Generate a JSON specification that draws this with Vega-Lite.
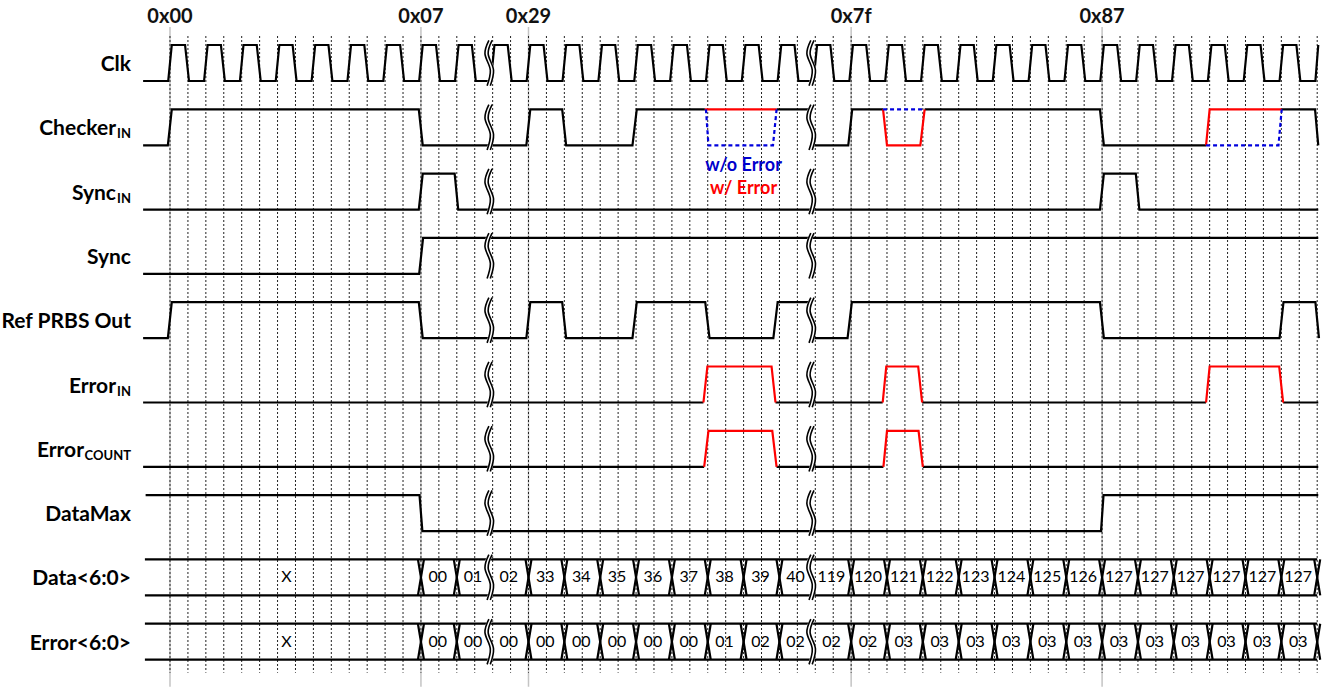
{
  "$schema": "https://vega.github.io/schema/vega-lite/v6.json",
  "width": 1332,
  "height": 687,
  "autosize": {"type": "fit", "contains": "padding"},
  "padding": 0,
  "background": "white",
  "config": {"view": {"stroke": null}, "font": "Lato"},
  "datasets": {
    "grid": [
      {"t":0},{"t":0.5},{"t":1},{"t":1.5},{"t":2},{"t":2.5},{"t":3},{"t":3.5},{"t":4},{"t":4.5},{"t":5},{"t":5.5},{"t":6},{"t":6.5},{"t":7},{"t":7.5},
      {"t":8},{"t":8.5},{"t":9},{"t":9.5},{"t":10},{"t":10.5},{"t":11},{"t":11.5},{"t":12},{"t":12.5},{"t":13},{"t":13.5},{"t":14},{"t":14.5},{"t":15},{"t":15.5},
      {"t":16},{"t":16.5},{"t":17},{"t":17.5},{"t":18},{"t":18.5},{"t":19},{"t":19.5},{"t":20},{"t":20.5},{"t":21},{"t":21.5},{"t":22},{"t":22.5},{"t":23},{"t":23.5},
      {"t":24},{"t":24.5},{"t":25},{"t":25.5},{"t":26},{"t":26.5},{"t":27},{"t":27.5},{"t":28},{"t":28.5},{"t":29},{"t":29.5},{"t":30},{"t":30.5},{"t":31},{"t":31.5},{"t":32}
    ],
    "hex": [
      {"t":0,"lab":"0x00"},{"t":7,"lab":"0x07"},{"t":10,"lab":"0x29"},{"t":19,"lab":"0x7f"},{"t":26,"lab":"0x87"}
    ],
    "wave": [
      {"s":"c","r":0,"t":-0.75,"v":0},
      {"s":"c","r":0,"t":-0.05,"v":0},{"s":"c","r":0,"t":0.05,"v":1},{"s":"c","r":0,"t":0.42,"v":1},{"s":"c","r":0,"t":0.53,"v":0},
      {"s":"c","r":0,"t":0.95,"v":0},{"s":"c","r":0,"t":1.05,"v":1},{"s":"c","r":0,"t":1.42,"v":1},{"s":"c","r":0,"t":1.53,"v":0},
      {"s":"c","r":0,"t":1.95,"v":0},{"s":"c","r":0,"t":2.05,"v":1},{"s":"c","r":0,"t":2.42,"v":1},{"s":"c","r":0,"t":2.53,"v":0},
      {"s":"c","r":0,"t":2.95,"v":0},{"s":"c","r":0,"t":3.05,"v":1},{"s":"c","r":0,"t":3.42,"v":1},{"s":"c","r":0,"t":3.53,"v":0},
      {"s":"c","r":0,"t":3.95,"v":0},{"s":"c","r":0,"t":4.05,"v":1},{"s":"c","r":0,"t":4.42,"v":1},{"s":"c","r":0,"t":4.53,"v":0},
      {"s":"c","r":0,"t":4.95,"v":0},{"s":"c","r":0,"t":5.05,"v":1},{"s":"c","r":0,"t":5.42,"v":1},{"s":"c","r":0,"t":5.53,"v":0},
      {"s":"c","r":0,"t":5.95,"v":0},{"s":"c","r":0,"t":6.05,"v":1},{"s":"c","r":0,"t":6.42,"v":1},{"s":"c","r":0,"t":6.53,"v":0},
      {"s":"c","r":0,"t":6.95,"v":0},{"s":"c","r":0,"t":7.05,"v":1},{"s":"c","r":0,"t":7.42,"v":1},{"s":"c","r":0,"t":7.53,"v":0},
      {"s":"c","r":0,"t":7.95,"v":0},{"s":"c","r":0,"t":8.05,"v":1},{"s":"c","r":0,"t":8.42,"v":1},{"s":"c","r":0,"t":8.53,"v":0},
      {"s":"c","r":0,"t":8.95,"v":0},{"s":"c","r":0,"t":9.05,"v":1},{"s":"c","r":0,"t":9.42,"v":1},{"s":"c","r":0,"t":9.53,"v":0},
      {"s":"c","r":0,"t":9.95,"v":0},{"s":"c","r":0,"t":10.05,"v":1},{"s":"c","r":0,"t":10.42,"v":1},{"s":"c","r":0,"t":10.53,"v":0},
      {"s":"c","r":0,"t":10.95,"v":0},{"s":"c","r":0,"t":11.05,"v":1},{"s":"c","r":0,"t":11.42,"v":1},{"s":"c","r":0,"t":11.53,"v":0},
      {"s":"c","r":0,"t":11.95,"v":0},{"s":"c","r":0,"t":12.05,"v":1},{"s":"c","r":0,"t":12.42,"v":1},{"s":"c","r":0,"t":12.53,"v":0},
      {"s":"c","r":0,"t":12.95,"v":0},{"s":"c","r":0,"t":13.05,"v":1},{"s":"c","r":0,"t":13.42,"v":1},{"s":"c","r":0,"t":13.53,"v":0},
      {"s":"c","r":0,"t":13.95,"v":0},{"s":"c","r":0,"t":14.05,"v":1},{"s":"c","r":0,"t":14.42,"v":1},{"s":"c","r":0,"t":14.53,"v":0},
      {"s":"c","r":0,"t":14.95,"v":0},{"s":"c","r":0,"t":15.05,"v":1},{"s":"c","r":0,"t":15.42,"v":1},{"s":"c","r":0,"t":15.53,"v":0},
      {"s":"c","r":0,"t":15.95,"v":0},{"s":"c","r":0,"t":16.05,"v":1},{"s":"c","r":0,"t":16.42,"v":1},{"s":"c","r":0,"t":16.53,"v":0},
      {"s":"c","r":0,"t":16.95,"v":0},{"s":"c","r":0,"t":17.05,"v":1},{"s":"c","r":0,"t":17.42,"v":1},{"s":"c","r":0,"t":17.53,"v":0},
      {"s":"c","r":0,"t":17.95,"v":0},{"s":"c","r":0,"t":18.05,"v":1},{"s":"c","r":0,"t":18.42,"v":1},{"s":"c","r":0,"t":18.53,"v":0},
      {"s":"c","r":0,"t":18.95,"v":0},{"s":"c","r":0,"t":19.05,"v":1},{"s":"c","r":0,"t":19.42,"v":1},{"s":"c","r":0,"t":19.53,"v":0},
      {"s":"c","r":0,"t":19.95,"v":0},{"s":"c","r":0,"t":20.05,"v":1},{"s":"c","r":0,"t":20.42,"v":1},{"s":"c","r":0,"t":20.53,"v":0},
      {"s":"c","r":0,"t":20.95,"v":0},{"s":"c","r":0,"t":21.05,"v":1},{"s":"c","r":0,"t":21.42,"v":1},{"s":"c","r":0,"t":21.53,"v":0},
      {"s":"c","r":0,"t":21.95,"v":0},{"s":"c","r":0,"t":22.05,"v":1},{"s":"c","r":0,"t":22.42,"v":1},{"s":"c","r":0,"t":22.53,"v":0},
      {"s":"c","r":0,"t":22.95,"v":0},{"s":"c","r":0,"t":23.05,"v":1},{"s":"c","r":0,"t":23.42,"v":1},{"s":"c","r":0,"t":23.53,"v":0},
      {"s":"c","r":0,"t":23.95,"v":0},{"s":"c","r":0,"t":24.05,"v":1},{"s":"c","r":0,"t":24.42,"v":1},{"s":"c","r":0,"t":24.53,"v":0},
      {"s":"c","r":0,"t":24.95,"v":0},{"s":"c","r":0,"t":25.05,"v":1},{"s":"c","r":0,"t":25.42,"v":1},{"s":"c","r":0,"t":25.53,"v":0},
      {"s":"c","r":0,"t":25.95,"v":0},{"s":"c","r":0,"t":26.05,"v":1},{"s":"c","r":0,"t":26.42,"v":1},{"s":"c","r":0,"t":26.53,"v":0},
      {"s":"c","r":0,"t":26.95,"v":0},{"s":"c","r":0,"t":27.05,"v":1},{"s":"c","r":0,"t":27.42,"v":1},{"s":"c","r":0,"t":27.53,"v":0},
      {"s":"c","r":0,"t":27.95,"v":0},{"s":"c","r":0,"t":28.05,"v":1},{"s":"c","r":0,"t":28.42,"v":1},{"s":"c","r":0,"t":28.53,"v":0},
      {"s":"c","r":0,"t":28.95,"v":0},{"s":"c","r":0,"t":29.05,"v":1},{"s":"c","r":0,"t":29.42,"v":1},{"s":"c","r":0,"t":29.53,"v":0},
      {"s":"c","r":0,"t":29.95,"v":0},{"s":"c","r":0,"t":30.05,"v":1},{"s":"c","r":0,"t":30.42,"v":1},{"s":"c","r":0,"t":30.53,"v":0},
      {"s":"c","r":0,"t":30.95,"v":0},{"s":"c","r":0,"t":31.05,"v":1},{"s":"c","r":0,"t":31.42,"v":1},{"s":"c","r":0,"t":31.53,"v":0},
      {"s":"c","r":0,"t":31.95,"v":0},{"s":"c","r":0,"t":32.03,"v":1},

      {"s":"k1","r":1,"t":-0.75,"v":0},{"s":"k1","r":1,"t":-0.06,"v":0},{"s":"k1","r":1,"t":0.05,"v":1},{"s":"k1","r":1,"t":6.94,"v":1},{"s":"k1","r":1,"t":7.05,"v":0},
      {"s":"k1","r":1,"t":9.94,"v":0},{"s":"k1","r":1,"t":10.05,"v":1},{"s":"k1","r":1,"t":10.94,"v":1},{"s":"k1","r":1,"t":11.05,"v":0},
      {"s":"k1","r":1,"t":12.9,"v":0},{"s":"k1","r":1,"t":13.02,"v":1},{"s":"k1","r":1,"t":14.92,"v":1},
      {"s":"k2","r":1,"t":16.92,"v":1},{"s":"k2","r":1,"t":17.88,"v":1},
      {"s":"k3","r":1,"t":17.9,"v":0},{"s":"k3","r":1,"t":18.92,"v":0},{"s":"k3","r":1,"t":19.03,"v":1},{"s":"k3","r":1,"t":19.89,"v":1},
      {"s":"k4","r":1,"t":21.05,"v":1},{"s":"k4","r":1,"t":25.94,"v":1},{"s":"k4","r":1,"t":26.05,"v":0},{"s":"k4","r":1,"t":28.9,"v":0},
      {"s":"k5","r":1,"t":31.01,"v":1},{"s":"k5","r":1,"t":31.94,"v":1},{"s":"k5","r":1,"t":32.03,"v":0},

      {"s":"si","r":2,"t":-0.75,"v":0},{"s":"si","r":2,"t":6.94,"v":0},{"s":"si","r":2,"t":7.05,"v":1},{"s":"si","r":2,"t":7.94,"v":1},{"s":"si","r":2,"t":8.04,"v":0},
      {"s":"si","r":2,"t":25.94,"v":0},{"s":"si","r":2,"t":26.05,"v":1},{"s":"si","r":2,"t":26.94,"v":1},{"s":"si","r":2,"t":27.04,"v":0},{"s":"si","r":2,"t":32.03,"v":0},

      {"s":"sy","r":3,"t":-0.75,"v":0},{"s":"sy","r":3,"t":6.95,"v":0},{"s":"sy","r":3,"t":7.06,"v":1},{"s":"sy","r":3,"t":32.03,"v":1},

      {"s":"p1","r":4,"t":-0.75,"v":0},{"s":"p1","r":4,"t":-0.06,"v":0},{"s":"p1","r":4,"t":0.05,"v":1},{"s":"p1","r":4,"t":6.94,"v":1},{"s":"p1","r":4,"t":7.05,"v":0},
      {"s":"p1","r":4,"t":9.94,"v":0},{"s":"p1","r":4,"t":10.05,"v":1},{"s":"p1","r":4,"t":10.94,"v":1},{"s":"p1","r":4,"t":11.05,"v":0},
      {"s":"p1","r":4,"t":12.9,"v":0},{"s":"p1","r":4,"t":13.02,"v":1},{"s":"p1","r":4,"t":14.93,"v":1},{"s":"p1","r":4,"t":15.05,"v":0},
      {"s":"p1","r":4,"t":16.83,"v":0},{"s":"p1","r":4,"t":16.95,"v":1},{"s":"p1","r":4,"t":17.88,"v":1},
      {"s":"p2","r":4,"t":17.9,"v":0},{"s":"p2","r":4,"t":18.9,"v":0},{"s":"p2","r":4,"t":19.02,"v":1},{"s":"p2","r":4,"t":25.94,"v":1},{"s":"p2","r":4,"t":26.05,"v":0},
      {"s":"p2","r":4,"t":30.95,"v":0},{"s":"p2","r":4,"t":31.06,"v":1},{"s":"p2","r":4,"t":31.95,"v":1},{"s":"p2","r":4,"t":32.05,"v":0},

      {"s":"e1","r":5,"t":-0.75,"v":0},{"s":"e1","r":5,"t":14.88,"v":0},
      {"s":"e2","r":5,"t":16.89,"v":0},{"s":"e2","r":5,"t":19.88,"v":0},
      {"s":"e3","r":5,"t":20.98,"v":0},{"s":"e3","r":5,"t":28.9,"v":0},
      {"s":"e4","r":5,"t":31.05,"v":0},{"s":"e4","r":5,"t":32.03,"v":0},

      {"s":"n1","r":6,"t":-0.75,"v":0},{"s":"n1","r":6,"t":14.9,"v":0},
      {"s":"n2","r":6,"t":16.92,"v":0},{"s":"n2","r":6,"t":19.9,"v":0},
      {"s":"n3","r":6,"t":21.0,"v":0},{"s":"n3","r":6,"t":32.03,"v":0},

      {"s":"dm","r":7,"t":-0.68,"v":1},{"s":"dm","r":7,"t":6.96,"v":1},{"s":"dm","r":7,"t":7.04,"v":0},{"s":"dm","r":7,"t":25.97,"v":0},{"s":"dm","r":7,"t":26.04,"v":1},{"s":"dm","r":7,"t":32.03,"v":1},

      {"s":"b1t","r":8,"t":-0.7,"v":1},{"s":"b1t","r":8,"t":32,"v":1},
      {"s":"b1b","r":8,"t":-0.7,"v":0},{"s":"b1b","r":8,"t":32,"v":0},
      {"s":"b2t","r":9,"t":-0.7,"v":1},{"s":"b2t","r":9,"t":32,"v":1},
      {"s":"b2b","r":9,"t":-0.7,"v":0},{"s":"b2b","r":9,"t":32,"v":0}
    ],
    "red": [
      {"s":"x1","r":1,"t":14.92,"v":1},{"s":"x1","r":1,"t":16.92,"v":1},
      {"s":"x2","r":1,"t":19.89,"v":1},{"s":"x2","r":1,"t":20.0,"v":0},{"s":"x2","r":1,"t":20.93,"v":0},{"s":"x2","r":1,"t":21.05,"v":1},
      {"s":"x3","r":1,"t":28.9,"v":0},{"s":"x3","r":1,"t":29.0,"v":1},{"s":"x3","r":1,"t":31.01,"v":1},
      {"s":"x4","r":5,"t":14.88,"v":0},{"s":"x4","r":5,"t":14.99,"v":1},{"s":"x4","r":5,"t":16.78,"v":1},{"s":"x4","r":5,"t":16.89,"v":0},
      {"s":"x5","r":5,"t":19.88,"v":0},{"s":"x5","r":5,"t":19.98,"v":1},{"s":"x5","r":5,"t":20.87,"v":1},{"s":"x5","r":5,"t":20.98,"v":0},
      {"s":"x6","r":5,"t":28.9,"v":0},{"s":"x6","r":5,"t":29.0,"v":1},{"s":"x6","r":5,"t":30.94,"v":1},{"s":"x6","r":5,"t":31.05,"v":0},
      {"s":"x7","r":6,"t":14.9,"v":0},{"s":"x7","r":6,"t":15.02,"v":1},{"s":"x7","r":6,"t":16.8,"v":1},{"s":"x7","r":6,"t":16.92,"v":0},
      {"s":"x8","r":6,"t":19.9,"v":0},{"s":"x8","r":6,"t":20.0,"v":1},{"s":"x8","r":6,"t":20.88,"v":1},{"s":"x8","r":6,"t":21.0,"v":0}
    ],
    "blue": [
      {"s":"w1","r":1,"t":14.95,"v":1},{"s":"w1","r":1,"t":15.02,"v":0},{"s":"w1","r":1,"t":16.82,"v":0},{"s":"w1","r":1,"t":16.92,"v":1},
      {"s":"w2","r":1,"t":19.89,"v":1},{"s":"w2","r":1,"t":21.05,"v":1},
      {"s":"w3","r":1,"t":28.9,"v":0},{"s":"w3","r":1,"t":30.92,"v":0},{"s":"w3","r":1,"t":31.01,"v":1}
    ],
    "cross": [
      {"r":8,"t":7},{"r":8,"t":8},{"r":8,"t":10},{"r":8,"t":11},{"r":8,"t":12},{"r":8,"t":13},{"r":8,"t":14},{"r":8,"t":15},{"r":8,"t":16},{"r":8,"t":17},
      {"r":8,"t":19},{"r":8,"t":20},{"r":8,"t":21},{"r":8,"t":22},{"r":8,"t":23},{"r":8,"t":24},{"r":8,"t":25},{"r":8,"t":26},{"r":8,"t":27},{"r":8,"t":28},
      {"r":8,"t":29},{"r":8,"t":30},{"r":8,"t":31},{"r":8,"t":32},
      {"r":9,"t":7},{"r":9,"t":8},{"r":9,"t":10},{"r":9,"t":11},{"r":9,"t":12},{"r":9,"t":13},{"r":9,"t":14},{"r":9,"t":15},{"r":9,"t":16},{"r":9,"t":17},
      {"r":9,"t":19},{"r":9,"t":20},{"r":9,"t":21},{"r":9,"t":22},{"r":9,"t":23},{"r":9,"t":24},{"r":9,"t":25},{"r":9,"t":26},{"r":9,"t":27},{"r":9,"t":28},
      {"r":9,"t":29},{"r":9,"t":30},{"r":9,"t":31},{"r":9,"t":32}
    ],
    "cells": [
      {"r":8,"t":3.25,"txt":"X"},{"r":8,"t":7.47,"txt":"00"},{"r":8,"t":8.45,"txt":"01"},{"r":8,"t":9.45,"txt":"02"},
      {"r":8,"t":10.47,"txt":"33"},{"r":8,"t":11.47,"txt":"34"},{"r":8,"t":12.47,"txt":"35"},{"r":8,"t":13.47,"txt":"36"},{"r":8,"t":14.47,"txt":"37"},
      {"r":8,"t":15.47,"txt":"38"},{"r":8,"t":16.47,"txt":"39"},{"r":8,"t":17.45,"txt":"40"},{"r":8,"t":18.45,"txt":"119"},
      {"r":8,"t":19.47,"txt":"120"},{"r":8,"t":20.47,"txt":"121"},{"r":8,"t":21.47,"txt":"122"},{"r":8,"t":22.47,"txt":"123"},{"r":8,"t":23.47,"txt":"124"},
      {"r":8,"t":24.47,"txt":"125"},{"r":8,"t":25.47,"txt":"126"},{"r":8,"t":26.47,"txt":"127"},{"r":8,"t":27.47,"txt":"127"},{"r":8,"t":28.47,"txt":"127"},
      {"r":8,"t":29.47,"txt":"127"},{"r":8,"t":30.47,"txt":"127"},{"r":8,"t":31.47,"txt":"127"},
      {"r":9,"t":3.25,"txt":"X"},{"r":9,"t":7.47,"txt":"00"},{"r":9,"t":8.45,"txt":"00"},{"r":9,"t":9.45,"txt":"00"},
      {"r":9,"t":10.47,"txt":"00"},{"r":9,"t":11.47,"txt":"00"},{"r":9,"t":12.47,"txt":"00"},{"r":9,"t":13.47,"txt":"00"},{"r":9,"t":14.47,"txt":"00"},
      {"r":9,"t":15.47,"txt":"01"},{"r":9,"t":16.47,"txt":"02"},{"r":9,"t":17.45,"txt":"02"},{"r":9,"t":18.45,"txt":"02"},
      {"r":9,"t":19.47,"txt":"02"},{"r":9,"t":20.47,"txt":"03"},{"r":9,"t":21.47,"txt":"03"},{"r":9,"t":22.47,"txt":"03"},{"r":9,"t":23.47,"txt":"03"},
      {"r":9,"t":24.47,"txt":"03"},{"r":9,"t":25.47,"txt":"03"},{"r":9,"t":26.47,"txt":"03"},{"r":9,"t":27.47,"txt":"03"},{"r":9,"t":28.47,"txt":"03"},
      {"r":9,"t":29.47,"txt":"03"},{"r":9,"t":30.47,"txt":"03"},{"r":9,"t":31.47,"txt":"03"}
    ],
    "brk": [
      {"id":"0a","i":0,"r":0,"t":8.94,"v":1.13},{"id":"0a","i":1,"r":0,"t":8.83,"v":0.76},{"id":"0a","i":2,"r":0,"t":8.98,"v":0.3},{"id":"0a","i":3,"r":0,"t":8.89,"v":-0.13},
      {"id":"0b","i":0,"r":0,"t":17.92,"v":1.13},{"id":"0b","i":1,"r":0,"t":17.81,"v":0.76},{"id":"0b","i":2,"r":0,"t":17.96,"v":0.3},{"id":"0b","i":3,"r":0,"t":17.87,"v":-0.13},
      {"id":"1a","i":0,"r":1,"t":8.94,"v":1.13},{"id":"1a","i":1,"r":1,"t":8.83,"v":0.76},{"id":"1a","i":2,"r":1,"t":8.98,"v":0.3},{"id":"1a","i":3,"r":1,"t":8.89,"v":-0.13},
      {"id":"1b","i":0,"r":1,"t":17.92,"v":1.13},{"id":"1b","i":1,"r":1,"t":17.81,"v":0.76},{"id":"1b","i":2,"r":1,"t":17.96,"v":0.3},{"id":"1b","i":3,"r":1,"t":17.87,"v":-0.13},
      {"id":"2a","i":0,"r":2,"t":8.94,"v":1.13},{"id":"2a","i":1,"r":2,"t":8.83,"v":0.76},{"id":"2a","i":2,"r":2,"t":8.98,"v":0.3},{"id":"2a","i":3,"r":2,"t":8.89,"v":-0.13},
      {"id":"2b","i":0,"r":2,"t":17.92,"v":1.13},{"id":"2b","i":1,"r":2,"t":17.81,"v":0.76},{"id":"2b","i":2,"r":2,"t":17.96,"v":0.3},{"id":"2b","i":3,"r":2,"t":17.87,"v":-0.13},
      {"id":"3a","i":0,"r":3,"t":8.94,"v":1.13},{"id":"3a","i":1,"r":3,"t":8.83,"v":0.76},{"id":"3a","i":2,"r":3,"t":8.98,"v":0.3},{"id":"3a","i":3,"r":3,"t":8.89,"v":-0.13},
      {"id":"3b","i":0,"r":3,"t":17.92,"v":1.13},{"id":"3b","i":1,"r":3,"t":17.81,"v":0.76},{"id":"3b","i":2,"r":3,"t":17.96,"v":0.3},{"id":"3b","i":3,"r":3,"t":17.87,"v":-0.13},
      {"id":"4a","i":0,"r":4,"t":8.94,"v":1.13},{"id":"4a","i":1,"r":4,"t":8.83,"v":0.76},{"id":"4a","i":2,"r":4,"t":8.98,"v":0.3},{"id":"4a","i":3,"r":4,"t":8.89,"v":-0.13},
      {"id":"4b","i":0,"r":4,"t":17.92,"v":1.13},{"id":"4b","i":1,"r":4,"t":17.81,"v":0.76},{"id":"4b","i":2,"r":4,"t":17.96,"v":0.3},{"id":"4b","i":3,"r":4,"t":17.87,"v":-0.13},
      {"id":"5a","i":0,"r":5,"t":8.94,"v":1.13},{"id":"5a","i":1,"r":5,"t":8.83,"v":0.76},{"id":"5a","i":2,"r":5,"t":8.98,"v":0.3},{"id":"5a","i":3,"r":5,"t":8.89,"v":-0.13},
      {"id":"5b","i":0,"r":5,"t":17.92,"v":1.13},{"id":"5b","i":1,"r":5,"t":17.81,"v":0.76},{"id":"5b","i":2,"r":5,"t":17.96,"v":0.3},{"id":"5b","i":3,"r":5,"t":17.87,"v":-0.13},
      {"id":"6a","i":0,"r":6,"t":8.94,"v":1.13},{"id":"6a","i":1,"r":6,"t":8.83,"v":0.76},{"id":"6a","i":2,"r":6,"t":8.98,"v":0.3},{"id":"6a","i":3,"r":6,"t":8.89,"v":-0.13},
      {"id":"6b","i":0,"r":6,"t":17.92,"v":1.13},{"id":"6b","i":1,"r":6,"t":17.81,"v":0.76},{"id":"6b","i":2,"r":6,"t":17.96,"v":0.3},{"id":"6b","i":3,"r":6,"t":17.87,"v":-0.13},
      {"id":"7a","i":0,"r":7,"t":8.94,"v":1.13},{"id":"7a","i":1,"r":7,"t":8.83,"v":0.76},{"id":"7a","i":2,"r":7,"t":8.98,"v":0.3},{"id":"7a","i":3,"r":7,"t":8.89,"v":-0.13},
      {"id":"7b","i":0,"r":7,"t":17.92,"v":1.13},{"id":"7b","i":1,"r":7,"t":17.81,"v":0.76},{"id":"7b","i":2,"r":7,"t":17.96,"v":0.3},{"id":"7b","i":3,"r":7,"t":17.87,"v":-0.13},
      {"id":"8a","i":0,"r":8,"t":8.94,"v":1.13},{"id":"8a","i":1,"r":8,"t":8.83,"v":0.76},{"id":"8a","i":2,"r":8,"t":8.98,"v":0.3},{"id":"8a","i":3,"r":8,"t":8.89,"v":-0.13},
      {"id":"8b","i":0,"r":8,"t":17.92,"v":1.13},{"id":"8b","i":1,"r":8,"t":17.81,"v":0.76},{"id":"8b","i":2,"r":8,"t":17.96,"v":0.3},{"id":"8b","i":3,"r":8,"t":17.87,"v":-0.13},
      {"id":"9a","i":0,"r":9,"t":8.94,"v":1.13},{"id":"9a","i":1,"r":9,"t":8.83,"v":0.76},{"id":"9a","i":2,"r":9,"t":8.98,"v":0.3},{"id":"9a","i":3,"r":9,"t":8.89,"v":-0.13},
      {"id":"9b","i":0,"r":9,"t":17.92,"v":1.13},{"id":"9b","i":1,"r":9,"t":17.81,"v":0.76},{"id":"9b","i":2,"r":9,"t":17.96,"v":0.3},{"id":"9b","i":3,"r":9,"t":17.87,"v":-0.13}
    ],
    "names": [
      {"r":0,"name":"Clk","sub":""},{"r":1,"name":"Checker","sub":"IN"},{"r":2,"name":"Sync","sub":"IN"},{"r":3,"name":"Sync","sub":""},
      {"r":4,"name":"Ref PRBS Out","sub":""},{"r":5,"name":"Error","sub":"IN"},{"r":6,"name":"Error","sub":"COUNT"},{"r":7,"name":"DataMax","sub":""},
      {"r":8,"name":"Data<6:0>","sub":""},{"r":9,"name":"Error<6:0>","sub":""}
    ]
  },
  "layer": [
    {
      "data": {"name": "hex"},
      "mark": {"type": "rule", "color": "#c4c4c4", "strokeWidth": 1.5, "yOffset": -54, "y2Offset": 27},
      "encoding": {
        "x": {"field": "t", "type": "quantitative", "axis": null, "scale": {"domain": [-4.742, 32.413], "nice": false, "zero": false}},
        "y": {"datum": 0, "type": "ordinal", "axis": null, "scale": {"type": "point", "domain": [0,1,2,3,4,5,6,7,8,9], "range": [81, 659.7], "padding": 0}},
        "y2": {"datum": 9}
      }
    },
    {
      "data": {"name": "grid"},
      "mark": {"type": "rule", "color": "#222222", "strokeWidth": 1, "strokeDash": [2, 2], "yOffset": -45, "y2Offset": 13},
      "encoding": {
        "x": {"field": "t", "type": "quantitative", "axis": null, "scale": {"domain": [-4.742, 32.413], "nice": false, "zero": false}},
        "y": {"datum": 0, "type": "ordinal", "axis": null, "scale": {"type": "point", "domain": [0,1,2,3,4,5,6,7,8,9], "range": [81, 659.7], "padding": 0}},
        "y2": {"datum": 9}
      }
    },
    {
      "data": {"name": "hex"},
      "mark": {"type": "text", "align": "center", "baseline": "alphabetic", "dy": -58, "fontSize": 20, "fontWeight": "bold", "color": "#111111"},
      "encoding": {
        "x": {"field": "t", "type": "quantitative", "axis": null, "scale": {"domain": [-4.742, 32.413], "nice": false, "zero": false}},
        "y": {"datum": 0, "type": "ordinal", "axis": null, "scale": {"type": "point", "domain": [0,1,2,3,4,5,6,7,8,9], "range": [81, 659.7], "padding": 0}},
        "text": {"field": "lab"}
      }
    },
    {
      "data": {"name": "wave"},
      "mark": {"type": "line", "color": "black", "strokeWidth": 2.2},
      "encoding": {
        "x": {"field": "t", "type": "quantitative", "axis": null, "scale": {"domain": [-4.742, 32.413], "nice": false, "zero": false}},
        "y": {"field": "r", "type": "ordinal", "axis": null, "scale": {"type": "point", "domain": [0,1,2,3,4,5,6,7,8,9], "range": [81, 659.7], "padding": 0}},
        "yOffset": {"field": "v", "type": "quantitative", "scale": {"domain": [0, 1], "range": [0, -36]}},
        "detail": {"field": "s"},
        "order": {"field": "t"}
      }
    },
    {
      "data": {"name": "red"},
      "mark": {"type": "line", "color": "#ff0000", "strokeWidth": 2.2},
      "encoding": {
        "x": {"field": "t", "type": "quantitative", "axis": null, "scale": {"domain": [-4.742, 32.413], "nice": false, "zero": false}},
        "y": {"field": "r", "type": "ordinal", "axis": null, "scale": {"type": "point", "domain": [0,1,2,3,4,5,6,7,8,9], "range": [81, 659.7], "padding": 0}},
        "yOffset": {"field": "v", "type": "quantitative", "scale": {"domain": [0, 1], "range": [0, -36]}},
        "detail": {"field": "s"},
        "order": {"field": "t"}
      }
    },
    {
      "data": {"name": "blue"},
      "mark": {"type": "line", "color": "#0000dd", "strokeWidth": 2.2, "strokeDash": [4, 3]},
      "encoding": {
        "x": {"field": "t", "type": "quantitative", "axis": null, "scale": {"domain": [-4.742, 32.413], "nice": false, "zero": false}},
        "y": {"field": "r", "type": "ordinal", "axis": null, "scale": {"type": "point", "domain": [0,1,2,3,4,5,6,7,8,9], "range": [81, 659.7], "padding": 0}},
        "yOffset": {"field": "v", "type": "quantitative", "scale": {"domain": [0, 1], "range": [0, -36]}},
        "detail": {"field": "s"},
        "order": {"field": "t"}
      }
    },
    {
      "data": {"name": "cross"},
      "mark": {"type": "rule", "color": "black", "strokeWidth": 2.2, "xOffset": -3, "x2Offset": 3, "yOffset": -36},
      "encoding": {
        "x": {"field": "t", "type": "quantitative", "axis": null, "scale": {"domain": [-4.742, 32.413], "nice": false, "zero": false}},
        "x2": {"field": "t"},
        "y": {"field": "r", "type": "ordinal", "axis": null, "scale": {"type": "point", "domain": [0,1,2,3,4,5,6,7,8,9], "range": [81, 659.7], "padding": 0}},
        "y2": {"field": "r"}
      }
    },
    {
      "data": {"name": "cross"},
      "mark": {"type": "rule", "color": "black", "strokeWidth": 2.2, "xOffset": 3, "x2Offset": -3, "yOffset": -36},
      "encoding": {
        "x": {"field": "t", "type": "quantitative", "axis": null, "scale": {"domain": [-4.742, 32.413], "nice": false, "zero": false}},
        "x2": {"field": "t"},
        "y": {"field": "r", "type": "ordinal", "axis": null, "scale": {"type": "point", "domain": [0,1,2,3,4,5,6,7,8,9], "range": [81, 659.7], "padding": 0}},
        "y2": {"field": "r"}
      }
    },
    {
      "data": {"name": "brk"},
      "mark": {"type": "line", "color": "white", "strokeWidth": 5, "interpolate": "cardinal"},
      "encoding": {
        "x": {"field": "t", "type": "quantitative", "axis": null, "scale": {"domain": [-4.742, 32.413], "nice": false, "zero": false}},
        "y": {"field": "r", "type": "ordinal", "axis": null, "scale": {"type": "point", "domain": [0,1,2,3,4,5,6,7,8,9], "range": [81, 659.7], "padding": 0}},
        "yOffset": {"field": "v", "type": "quantitative", "scale": {"domain": [0, 1], "range": [0, -36]}},
        "detail": {"field": "id"},
        "order": {"field": "i"}
      }
    },
    {
      "data": {"name": "brk"},
      "mark": {"type": "line", "color": "black", "strokeWidth": 1.6, "interpolate": "cardinal", "xOffset": -1.6},
      "encoding": {
        "x": {"field": "t", "type": "quantitative", "axis": null, "scale": {"domain": [-4.742, 32.413], "nice": false, "zero": false}},
        "y": {"field": "r", "type": "ordinal", "axis": null, "scale": {"type": "point", "domain": [0,1,2,3,4,5,6,7,8,9], "range": [81, 659.7], "padding": 0}},
        "yOffset": {"field": "v", "type": "quantitative", "scale": {"domain": [0, 1], "range": [0, -36]}},
        "detail": {"field": "id"},
        "order": {"field": "i"}
      }
    },
    {
      "data": {"name": "brk"},
      "mark": {"type": "line", "color": "black", "strokeWidth": 1.6, "interpolate": "cardinal", "xOffset": 1.6},
      "encoding": {
        "x": {"field": "t", "type": "quantitative", "axis": null, "scale": {"domain": [-4.742, 32.413], "nice": false, "zero": false}},
        "y": {"field": "r", "type": "ordinal", "axis": null, "scale": {"type": "point", "domain": [0,1,2,3,4,5,6,7,8,9], "range": [81, 659.7], "padding": 0}},
        "yOffset": {"field": "v", "type": "quantitative", "scale": {"domain": [0, 1], "range": [0, -36]}},
        "detail": {"field": "id"},
        "order": {"field": "i"}
      }
    },
    {
      "data": {"name": "cells"},
      "mark": {"type": "text", "align": "center", "baseline": "middle", "dy": -18, "fontSize": 16, "color": "black"},
      "encoding": {
        "x": {"field": "t", "type": "quantitative", "axis": null, "scale": {"domain": [-4.742, 32.413], "nice": false, "zero": false}},
        "y": {"field": "r", "type": "ordinal", "axis": null, "scale": {"type": "point", "domain": [0,1,2,3,4,5,6,7,8,9], "range": [81, 659.7], "padding": 0}},
        "text": {"field": "txt"}
      }
    },
    {
      "data": {"name": "names"},
      "transform": [{"filter": "datum.sub == ''"}],
      "mark": {"type": "text", "align": "right", "baseline": "alphabetic", "dy": -10, "fontSize": 21, "fontWeight": "bold", "color": "black"},
      "encoding": {
        "x": {"datum": -1.088, "type": "quantitative", "axis": null, "scale": {"domain": [-4.742, 32.413], "nice": false, "zero": false}},
        "y": {"field": "r", "type": "ordinal", "axis": null, "scale": {"type": "point", "domain": [0,1,2,3,4,5,6,7,8,9], "range": [81, 659.7], "padding": 0}},
        "text": {"field": "name"}
      }
    },
    {
      "data": {"name": "names"},
      "transform": [{"filter": "datum.sub == 'IN'"}],
      "mark": {"type": "text", "align": "right", "baseline": "alphabetic", "dy": -10, "dx": -15, "fontSize": 21, "fontWeight": "bold", "color": "black"},
      "encoding": {
        "x": {"datum": -1.088, "type": "quantitative", "axis": null, "scale": {"domain": [-4.742, 32.413], "nice": false, "zero": false}},
        "y": {"field": "r", "type": "ordinal", "axis": null, "scale": {"type": "point", "domain": [0,1,2,3,4,5,6,7,8,9], "range": [81, 659.7], "padding": 0}},
        "text": {"field": "name"}
      }
    },
    {
      "data": {"name": "names"},
      "transform": [{"filter": "datum.sub == 'COUNT'"}],
      "mark": {"type": "text", "align": "right", "baseline": "alphabetic", "dy": -10, "dx": -47, "fontSize": 21, "fontWeight": "bold", "color": "black"},
      "encoding": {
        "x": {"datum": -1.088, "type": "quantitative", "axis": null, "scale": {"domain": [-4.742, 32.413], "nice": false, "zero": false}},
        "y": {"field": "r", "type": "ordinal", "axis": null, "scale": {"type": "point", "domain": [0,1,2,3,4,5,6,7,8,9], "range": [81, 659.7], "padding": 0}},
        "text": {"field": "name"}
      }
    },
    {
      "data": {"name": "names"},
      "transform": [{"filter": "datum.sub != ''"}],
      "mark": {"type": "text", "align": "right", "baseline": "alphabetic", "dy": -7, "fontSize": 13, "fontWeight": "bold", "color": "black"},
      "encoding": {
        "x": {"datum": -1.088, "type": "quantitative", "axis": null, "scale": {"domain": [-4.742, 32.413], "nice": false, "zero": false}},
        "y": {"field": "r", "type": "ordinal", "axis": null, "scale": {"type": "point", "domain": [0,1,2,3,4,5,6,7,8,9], "range": [81, 659.7], "padding": 0}},
        "text": {"field": "sub"}
      }
    },
    {
      "data": {"values": [{"txt": "w/o Error"}]},
      "mark": {"type": "text", "align": "center", "baseline": "middle", "dy": -44, "fontSize": 18, "fontWeight": "bold", "color": "#0000cc"},
      "encoding": {
        "x": {"datum": 16, "type": "quantitative", "axis": null, "scale": {"domain": [-4.742, 32.413], "nice": false, "zero": false}},
        "y": {"datum": 2, "type": "ordinal", "axis": null, "scale": {"type": "point", "domain": [0,1,2,3,4,5,6,7,8,9], "range": [81, 659.7], "padding": 0}},
        "text": {"field": "txt"}
      }
    },
    {
      "data": {"values": [{"txt": "w/ Error"}]},
      "mark": {"type": "text", "align": "center", "baseline": "middle", "dy": -21, "fontSize": 18, "fontWeight": "bold", "color": "#ff0000"},
      "encoding": {
        "x": {"datum": 16, "type": "quantitative", "axis": null, "scale": {"domain": [-4.742, 32.413], "nice": false, "zero": false}},
        "y": {"datum": 2, "type": "ordinal", "axis": null, "scale": {"type": "point", "domain": [0,1,2,3,4,5,6,7,8,9], "range": [81, 659.7], "padding": 0}},
        "text": {"field": "txt"}
      }
    }
  ]
}
